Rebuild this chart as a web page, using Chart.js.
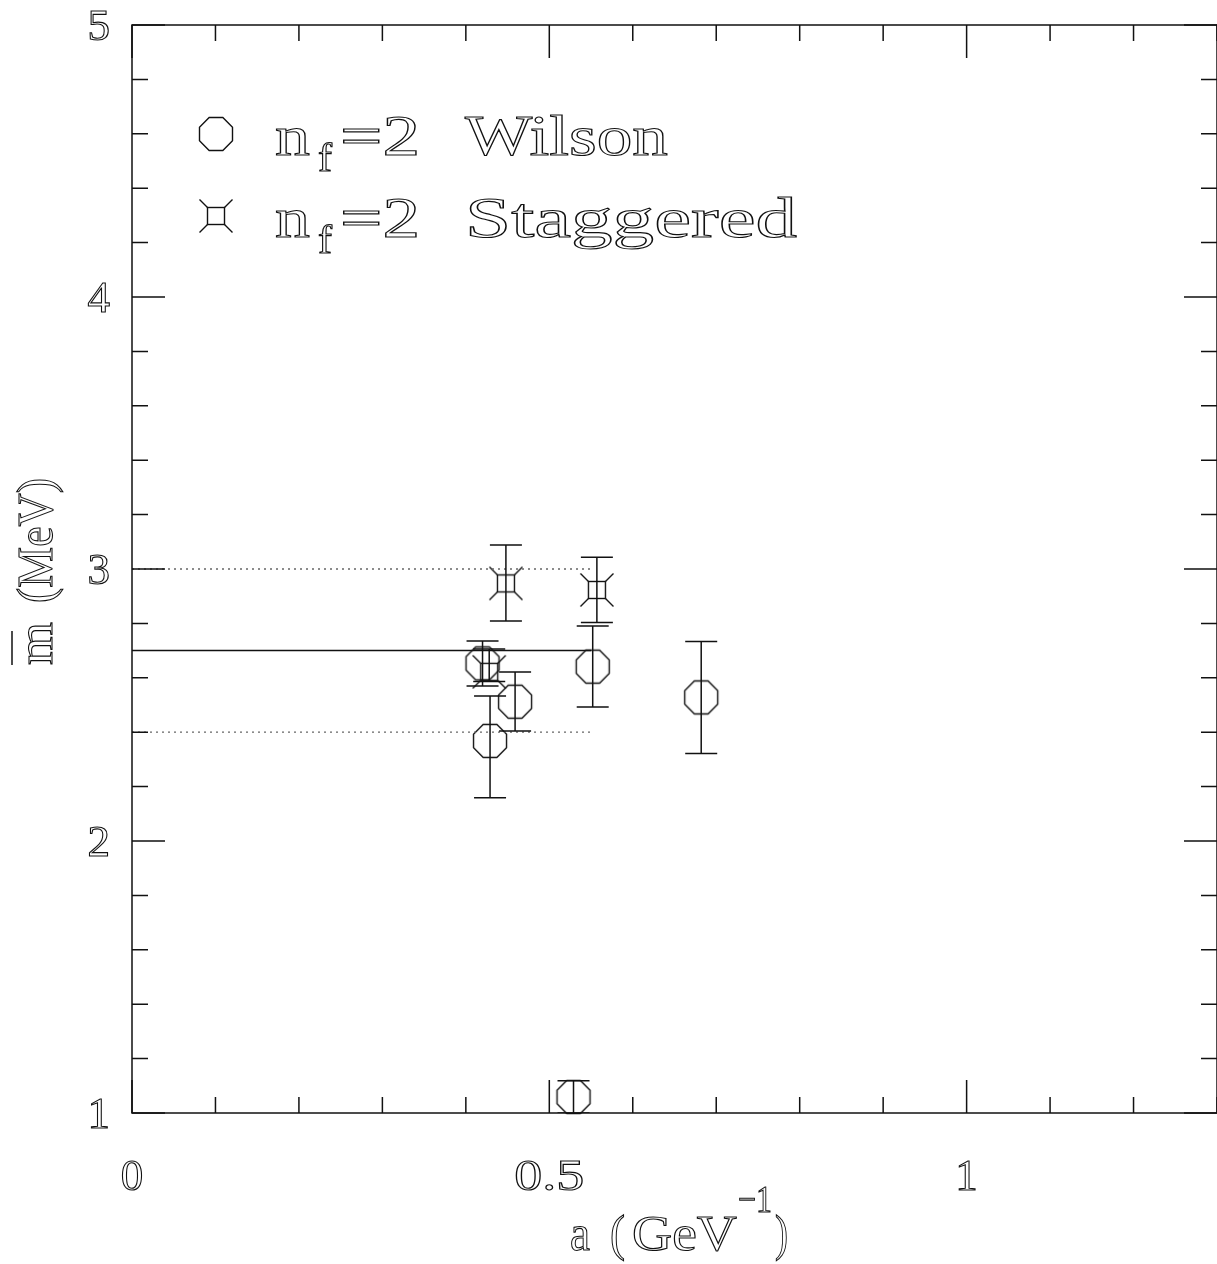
<!DOCTYPE html>
<html>
<head>
<meta charset="utf-8">
<script src="https://cdn.jsdelivr.net/npm/chart.js@4.4.1/dist/chart.umd.min.js"></script>
<style>
  body { margin: 0; background: #fff; overflow: hidden; }
</style>
</head>
<body>
<canvas id="myChart" width="1217" height="1264"></canvas>
<script>
// Wilson points (a in GeV^-1, mbar in MeV) with error bar ends
const wilsonA  = [0.420, 0.429, 0.459, 0.529, 0.552, 0.682];
const wilsonM  = [2.653, 2.368, 2.512, 1.059, 2.641, 2.528];
const wilsonHi = [2.735, 2.533, 2.621, 1.119, 2.790, 2.733];
const wilsonLo = [2.570, 2.159, 2.404, 1.000, 2.493, 2.322];

// Staggered points
const staggA  = [0.428, 0.448, 0.557];
const staggM  = [2.622, 2.947, 2.923];
const staggHi = [2.706, 3.088, 3.043];
const staggLo = [2.586, 2.809, 2.803];

// average band
const fitA = [0, 0.55];
const fitM = 2.7;
const fitErr = 0.3;

const xTicks = [0, 0.5, 1];
const xTickLabels = ["0", "0.5", "1"];
const yTicks = [1, 2, 3, 4, 5];

const FONT = "'Liberation Serif', 'DejaVu Serif', serif";

function octagonMarker() {
  const c = document.createElement("canvas");
  c.width = 40; c.height = 40;
  const g = c.getContext("2d");
  const r = 16.5 / Math.cos(Math.PI / 8);
  g.strokeStyle = "#111";
  g.lineWidth = 1.4;
  g.beginPath();
  for (let k = 0; k < 8; k++) {
    const t = Math.PI / 8 + k * Math.PI / 4;
    const px = 20 + r * Math.cos(t), py = 20 + r * Math.sin(t);
    k ? g.lineTo(px, py) : g.moveTo(px, py);
  }
  g.closePath();
  g.stroke();
  return c;
}

function squareMarker() {
  const c = document.createElement("canvas");
  c.width = 40; c.height = 40;
  const g = c.getContext("2d");
  g.strokeStyle = "#111";
  g.lineWidth = 1.4;
  g.strokeRect(20 - 8.5, 20 - 8.5, 17, 17);
  g.beginPath();
  [[-1, -1], [1, -1], [1, 1], [-1, 1]].forEach(([sx, sy]) => {
    g.moveTo(20 + sx * 8.5, 20 + sy * 8.5);
    g.lineTo(20 + sx * 16.5, 20 + sy * 16.5);
  });
  g.stroke();
  return c;
}

const octo = octagonMarker();
const sq = squareMarker();

// outlined text, optionally stretched horizontally to a given width
function stretched(ctx, text, x, y, targetW) {
  const w = ctx.measureText(text).width;
  ctx.save();
  ctx.translate(x, y);
  if (targetW) ctx.scale(targetW / w, 1);
  ctx.lineWidth = 1.1;
  ctx.strokeText(text, 0, 0);
  ctx.restore();
}

const framePlugin = {
  id: "frame",
  afterDatasetsDraw(chart) {
    const { ctx, chartArea: a, scales: { x, y } } = chart;
    ctx.save();
    ctx.strokeStyle = "#111";
    ctx.fillStyle = "#111";

    // error bars
    const cap = 16;
    ctx.lineWidth = 1.5;
    ctx.save();
    ctx.beginPath();
    ctx.rect(a.left, a.top, a.right - a.left, a.bottom - a.top);
    ctx.clip();
    const bars = (xs, his, los) => xs.forEach((v, i) => {
      const px = x.getPixelForValue(v);
      const ph = y.getPixelForValue(his[i]);
      const pl = y.getPixelForValue(los[i]);
      ctx.beginPath();
      ctx.moveTo(px, ph); ctx.lineTo(px, pl);
      ctx.moveTo(px - cap, ph); ctx.lineTo(px + cap, ph);
      ctx.moveTo(px - cap, pl); ctx.lineTo(px + cap, pl);
      ctx.stroke();
    });
    bars(wilsonA, wilsonHi, wilsonLo);
    bars(staggA, staggHi, staggLo);
    ctx.restore();

    // box
    ctx.lineWidth = 1.5;
    ctx.strokeRect(a.left, a.top, a.right - a.left, a.bottom - a.top);

    // ticks
    ctx.beginPath();
    for (let i = 0; i <= 13; i++) {
      const px = x.getPixelForValue(i / 10);
      const len = i % 5 === 0 ? 33 : 16;
      ctx.moveTo(px, a.bottom); ctx.lineTo(px, a.bottom - len);
      ctx.moveTo(px, a.top); ctx.lineTo(px, a.top + len);
    }
    for (let i = 0; i <= 20; i++) {
      const py = y.getPixelForValue(1 + i * 0.2);
      const len = i % 5 === 0 ? 33 : 16;
      ctx.moveTo(a.left, py); ctx.lineTo(a.left + len, py);
      ctx.moveTo(a.right, py); ctx.lineTo(a.right - len, py);
    }
    ctx.stroke();

    // tick labels
    ctx.font = "45px " + FONT;
    ctx.textAlign = "left";
    yTicks.forEach(v => {
      const t = String(v);
      stretched(ctx, t, 110 - ctx.measureText(t).width, y.getPixelForValue(v) + 15, 0);
    });
    xTicks.forEach((v, i) => {
      const t = xTickLabels[i];
      const w = t.length > 1 ? 70 : ctx.measureText(t).width;
      stretched(ctx, t, x.getPixelForValue(v) - w / 2, 1190, t.length > 1 ? w : 0);
    });

    // x title
    ctx.font = "50px " + FONT;
    stretched(ctx, "a", 570, 1250, 20);
    stretched(ctx, "(", 610, 1250, 15);
    stretched(ctx, "GeV", 632, 1250, 105);
    stretched(ctx, ")", 775, 1250, 13);
    ctx.font = "38px " + FONT;
    stretched(ctx, "\u22121", 738, 1212, 34);

    // y title
    ctx.save();
    ctx.translate(52, 665);
    ctx.rotate(-Math.PI / 2);
    ctx.font = "50px " + FONT;
    stretched(ctx, "m", 0, 0, 43);
    stretched(ctx, "(MeV)", 62, 0, 125);
    ctx.lineWidth = 1.5;
    ctx.beginPath();
    ctx.moveTo(0, -40); ctx.lineTo(34, -40);
    ctx.stroke();
    ctx.restore();

    // legend
    ctx.drawImage(octo, 216 - 20, 134 - 20);
    ctx.drawImage(sq, 216 - 20, 216 - 20);
    [[155, "Wilson", 203], [237, "Staggered", 332]].forEach(([b, name, w]) => {
      ctx.font = "56px " + FONT;
      stretched(ctx, "n", 275, b, 35);
      ctx.font = "40px " + FONT;
      stretched(ctx, "f", 318, b + 16, 14);
      ctx.font = "56px " + FONT;
      stretched(ctx, "=2", 340, b, 80);
      stretched(ctx, name, 465, b, w);
    });
    ctx.restore();
  }
};

const chart = new Chart(document.getElementById("myChart"), {
  type: "scatter",
  data: {
    datasets: [
      {
        type: "line", data: fitA.map(v => ({ x: v, y: fitM })),
        borderColor: "#111", borderWidth: 1.5, pointRadius: 0
      },
      {
        type: "line", data: fitA.map(v => ({ x: v, y: fitM + fitErr })),
        borderColor: "#666", borderWidth: 1.3, borderDash: [2, 4], pointRadius: 0
      },
      {
        type: "line", data: fitA.map(v => ({ x: v, y: fitM - fitErr })),
        borderColor: "#666", borderWidth: 1.3, borderDash: [2, 4], pointRadius: 0
      },
      {
        label: "Wilson", data: wilsonA.map((v, i) => ({ x: v, y: wilsonM[i] })),
        pointStyle: octo, pointRadius: 20
      },
      {
        label: "Staggered", data: staggA.map((v, i) => ({ x: v, y: staggM[i] })),
        pointStyle: sq, pointRadius: 20
      }
    ]
  },
  options: {
    responsive: false,
    animation: false,
    events: [],
    clip: false,
    layout: { autoPadding: false, padding: { left: 132, top: 25, right: -2.5, bottom: 151 } },
    scales: {
      x: { type: "linear", min: 0, max: 1.3, display: false },
      y: { type: "linear", min: 1, max: 5, display: false }
    },
    plugins: { legend: { display: false }, tooltip: { enabled: false } }
  },
  plugins: [framePlugin]
});
</script>
</body>
</html>
